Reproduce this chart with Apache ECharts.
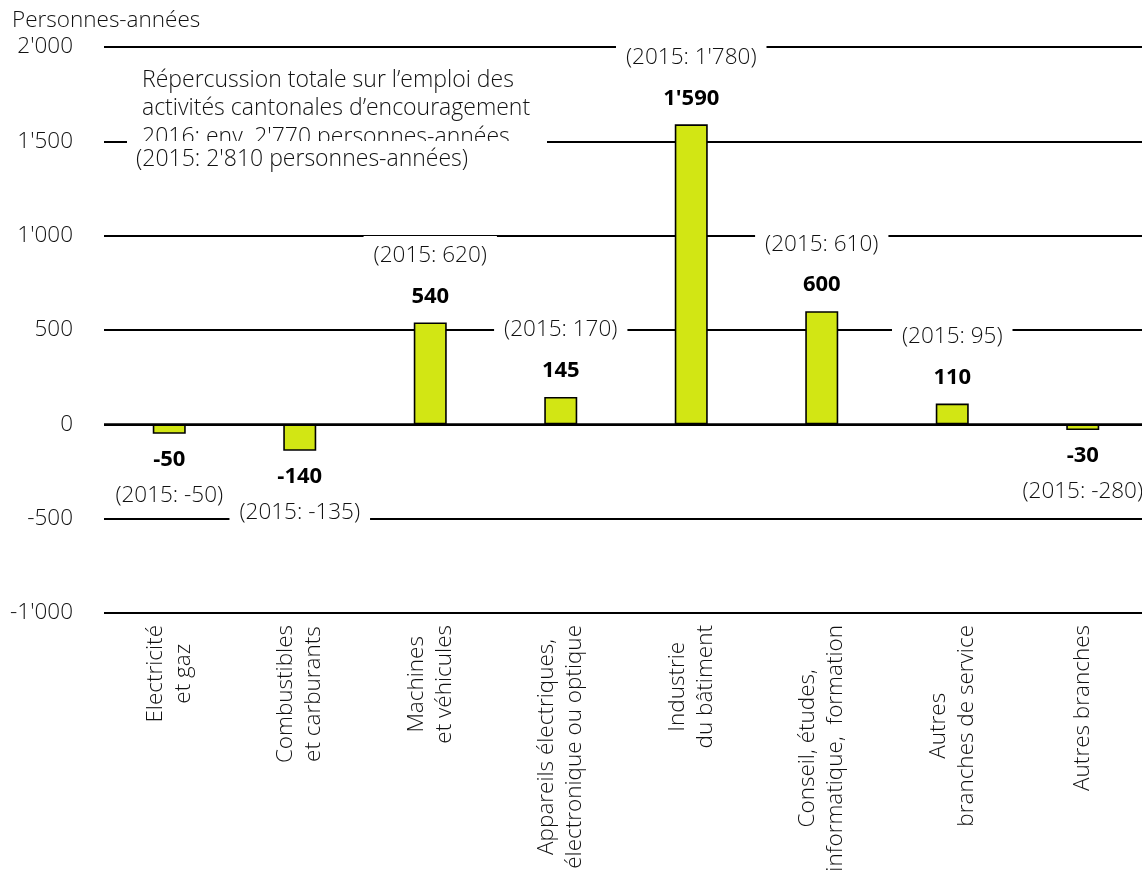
<!DOCTYPE html>
<html><head><meta charset="utf-8">
<script src="https://cdn.jsdelivr.net/npm/echarts@6/dist/echarts.min.js"></script>
<style>html,body{margin:0;padding:0;background:#fff;overflow:hidden}#c{width:1142px;height:870px}</style>
</head><body><div id="c"></div>
<script>
// ---- data ----
const categories = [
  "Electricité\net gaz",
  "Combustibles\net carburants",
  "Machines\net véhicules",
  "Appareils électriques,\nélectronique ou optique",
  "Industrie\ndu bâtiment",
  "Conseil, études,\ninformatique,  formation",
  "Autres\nbranches de service",
  "Autres branches"
];
const values2016 = [-50, -140, 540, 145, 1590, 600, 110, -30];
const values2015 = [-50, -135, 620, 170, 1780, 610, 95, -280];
const yMin = -1000, yMax = 2000, yInterval = 500;
const yAxisName = "Personnes-années";
const noteText = "Répercussion totale sur l’emploi des\nactivités cantonales d’encouragement\n2016: env. 2'770 personnes-années";
const note2015 = "(2015: 2'810 personnes-années)";

// ---- helpers ----
const FONT = "'Open Sans', 'Noto Sans', sans-serif";
const FS = 22.5;
const fmt = n => String(n).replace(/\B(?=(\d{3})+(?!\d))/g, "'");

const barData = values2016.map((v, i) => {
  const prev = "(2015: " + fmt(values2015[i]) + ")";
  const pos = v >= 0;
  return {
    value: v,
    label: {
      show: true,
      position: pos ? 'top' : 'bottom',
      distance: pos ? 10 : 11,
      formatter: pos ? ('{p|' + prev + '}\n{v|' + fmt(v) + '}') : ('{vn|' + fmt(v) + '}\n{pn|' + prev + '}')
    }
  };
});

const chart = echarts.init(document.getElementById('c'), null, {renderer: 'canvas'});
chart.setOption({
  animation: false,
  backgroundColor: '#fff',
  textStyle: {fontFamily: FONT},
  title: {
    text: yAxisName, left: 12, top: 7, padding: 0,
    textStyle: {fontFamily: FONT, fontSize: FS, fontWeight: 300, color: '#111', lineHeight: 28}
  },
  grid: {left: 104, top: 47, width: 1044, bottom: 257, containLabel: false, outerBoundsMode: 'none'},
  xAxis: {
    type: 'category',
    data: categories,
    axisLine: {show: false, onZero: false},
    axisTick: {show: false},
    splitLine: {show: false},
    axisLabel: {
      rotate: 90,
      margin: 12,
      interval: 0,
      hideOverlap: false,
      formatter: v => v.split('\n').map(s => '{c|' + s + '}').join('\n'),
      rich: {c: {align: 'center', fontFamily: FONT, fontSize: FS, fontWeight: 300, lineHeight: 28, color: '#111'}}
    }
  },
  yAxis: {
    type: 'value',
    min: yMin, max: yMax, interval: yInterval,
    axisLine: {show: false},
    axisTick: {show: false},
    axisLabel: {
      margin: 31,
      fontFamily: FONT, fontSize: FS, fontWeight: 300, color: '#111',
      formatter: v => fmt(v)
    },
    splitLine: {lineStyle: {color: '#000', width: 1.8}}
  },
  series: [{
    type: 'bar',
    data: barData,
    barWidth: 33,
    itemStyle: {color: '#d2e614', borderColor: '#000', borderWidth: 1.6},
    label: {
      rich: {
        p: {fontFamily: FONT, fontSize: FS, fontWeight: 300, color: '#111', backgroundColor: '#fff', padding: [8, 10], lineHeight: 50},
        pn: {fontFamily: FONT, fontSize: FS, fontWeight: 300, color: '#111', backgroundColor: '#fff', padding: [8, 10], lineHeight: 42},
        v: {fontFamily: FONT, fontSize: 22, fontWeight: 'bold', color: '#000', lineHeight: 32},
        vn: {fontFamily: FONT, fontSize: 22, fontWeight: 'bold', color: '#000', lineHeight: 30}
      }
    },
    markLine: {
      silent: true,
      symbol: 'none',
      label: {show: false},
      lineStyle: {color: '#000', width: 2.6, type: 'solid'},
      data: [{yAxis: 0}]
    }
  }],
  graphic: [
    {type: 'text', left: 142, top: 66, z: 10,
      style: {text: noteText, fontFamily: FONT, fontSize: 23, fontWeight: 300, lineHeight: 28.5, fill: '#111'}},
    {type: 'rect', shape: {x: 127, y: 141, width: 420, height: 46}, z: 11, style: {fill: '#fff'}},
    {type: 'text', left: 136, top: 145, z: 12,
      style: {text: note2015, fontFamily: FONT, fontSize: 23, fontWeight: 300, lineHeight: 28.5, fill: '#111'}}
  ]
});
</script>
</body></html>
